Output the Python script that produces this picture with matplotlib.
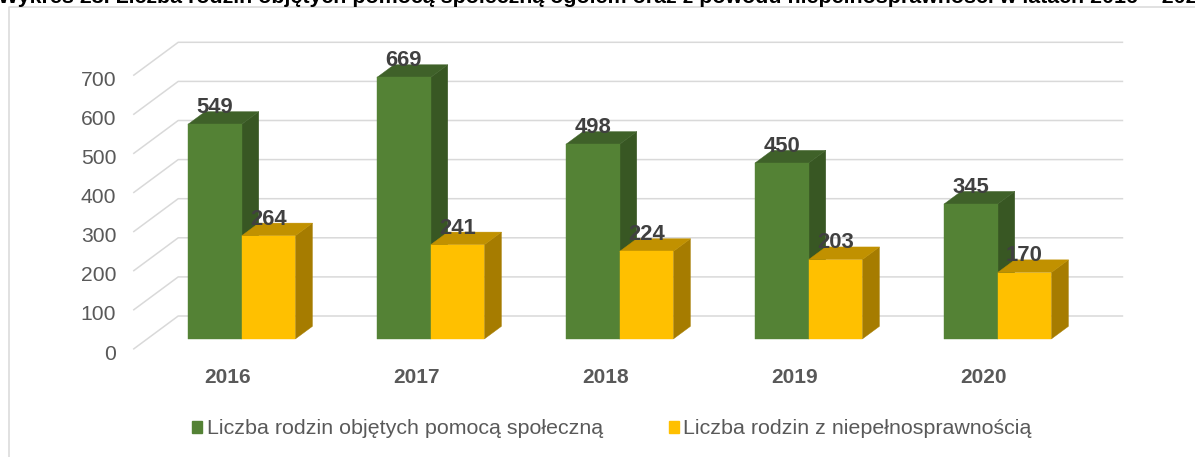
import matplotlib
matplotlib.use("Agg")
import matplotlib.pyplot as plt
from matplotlib.patches import Polygon, Patch
from matplotlib.lines import Line2D

# data
years = ["2016", "2017", "2018", "2019", "2020"]
families_total = [549, 669, 498, 450, 345]
families_disability = [264, 241, 224, 203, 170]
series_names = ["Liczba rodzin objętych pomocą społeczną",
                "Liczba rodzin z niepełnosprawnością"]
y_ticks = [0, 100, 200, 300, 400, 500, 600, 700]
title = ("Wykres 23. Liczba rodzin objętych pomocą społeczną ogółem oraz "
         "z powodu niepełnosprawności w latach 2016 – 2020")

GREEN = ("#548235", "#3f6129", "#385723")     # front, top, side
YELLOW = ("#ffc000", "#c19100", "#a67c00")
GRID = "#d9d9d9"
TXT = "#595959"

W, H = 1195, 457
plt.rcParams["font.family"] = ["Liberation Sans", "DejaVu Sans"]

fig = plt.figure(figsize=(W / 100, H / 100), dpi=100)
ax = fig.add_axes([0, 0, 1, 1])
ax.axis("off")

# layout of the fake 3d scene (pixels)
X0, Y0 = 133.2, 349.3      # front-left corner of the floor
PX_CAT = 189.0             # px per category
PX_VAL = 0.391             # px per value unit
ax.set_xlim(-X0 / PX_CAT, (W - X0) / PX_CAT)
ax.set_ylim((Y0 - H) / PX_VAL, Y0 / PX_VAL)
DX, DY = 45.0 / PX_CAT, 33.3 / PX_VAL   # full floor depth in data units
F_FRONT, F_BACK = 0.31, 0.69            # bar front/back depth fraction
BAR_W = 0.284

# back wall gridlines + left diagonals
for v in y_ticks:
    ax.plot([0, DX, len(years) + DX], [v, v + DY, v + DY],
            color=GRID, lw=1.1, zorder=1, solid_capstyle="butt")
    ax.text(-17 / PX_CAT, v - 10.2 / PX_VAL, str(v), ha="right",
            va="baseline", fontsize=15.2, color=TXT)


def box(x0, h, colors, z):
    fx, fy = F_FRONT * DX, F_FRONT * DY
    bx, by = F_BACK * DX, F_BACK * DY
    x1 = x0 + BAR_W
    faces = [
        ([(x1 + fx, fy), (x1 + bx, by), (x1 + bx, h + by), (x1 + fx, h + fy)], colors[2]),
        ([(x0 + fx, h + fy), (x1 + fx, h + fy), (x1 + bx, h + by), (x0 + bx, h + by)], colors[1]),
        ([(x0 + fx, fy), (x1 + fx, fy), (x1 + fx, h + fy), (x0 + fx, h + fy)], colors[0]),
    ]
    for pts, c in faces:
        ax.add_patch(Polygon(pts, closed=True, facecolor=c, edgecolor=c,
                             lw=0.3, zorder=z))
    ax.text(x0 + fx + BAR_W / 2, h + by - 1.5 / PX_VAL, str(h), ha="center",
            va="baseline", fontsize=15.8, fontweight="bold", color="#404040",
            zorder=z + 10)


for i, (a, b) in enumerate(zip(families_total, families_disability)):
    x0 = i + 0.5 - BAR_W
    box(x0, a, GREEN, 2 + i * 2)
    box(x0 + BAR_W, b, YELLOW, 3 + i * 2)
    ax.text(i + 0.5, -33.4 / PX_VAL, years[i], ha="center", va="baseline",
            fontsize=15, fontweight="bold", color=TXT)

# title (cut off at the top in the original)
fig.text(-0.002, 1 - 3 / H, title, ha="left", va="baseline", fontsize=15.4,
         fontweight="bold", color="black")

# chart frame
fig.add_artist(Line2D([9 / W, 9 / W, 1], [0, 1 - 7 / H, 1 - 7 / H],
                      color=GRID, lw=1.1, transform=fig.transFigure))

handles = [Patch(color=GREEN[0]), Patch(color=YELLOW[0])]
fig.legend(handles, series_names, loc="center",
           bbox_to_anchor=(612 / W, 1 - 429 / H), ncol=2, frameon=False,
           fontsize=15.4, handlelength=0.47, handleheight=0.47,
           handletextpad=0.2, columnspacing=3.1, labelcolor=TXT)

fig.savefig("out.png", dpi=100)
